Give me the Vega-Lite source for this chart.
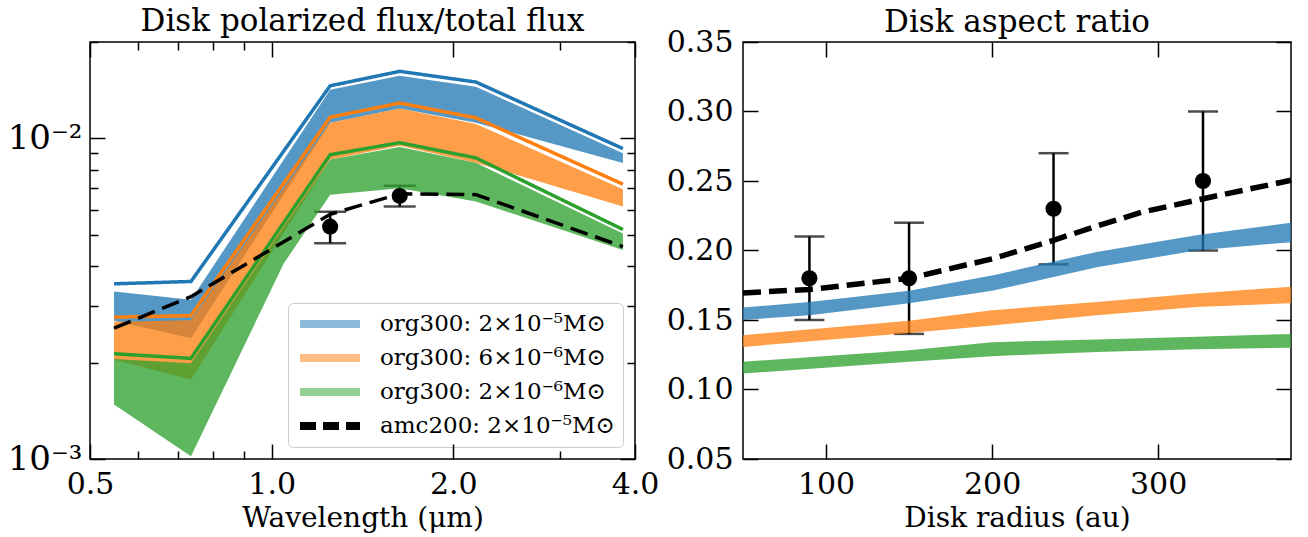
{
  "$schema": "https://vega.github.io/schema/vega-lite/v6.json",
  "padding": {"left": 6, "top": 5, "right": 10, "bottom": 0},
  "bounds": "flush",
  "spacing": 108,
  "datasets": {
    "leftBands": [
      {"model": "org300: 2×10⁻⁵M⊙", "wl": 0.548, "lo": 0.00270, "hi": 0.00333},
      {"model": "org300: 2×10⁻⁵M⊙", "wl": 0.735, "lo": 0.00238, "hi": 0.00314},
      {"model": "org300: 2×10⁻⁵M⊙", "wl": 1.25, "lo": 0.0112, "hi": 0.0142},
      {"model": "org300: 2×10⁻⁵M⊙", "wl": 1.63, "lo": 0.0124, "hi": 0.0157},
      {"model": "org300: 2×10⁻⁵M⊙", "wl": 2.18, "lo": 0.0112, "hi": 0.0145},
      {"model": "org300: 2×10⁻⁵M⊙", "wl": 3.82, "lo": 0.00838, "hi": 0.0090},
      {"model": "org300: 6×10⁻⁶M⊙", "wl": 0.548, "lo": 0.00204, "hi": 0.00268},
      {"model": "org300: 6×10⁻⁶M⊙", "wl": 0.735, "lo": 0.00177, "hi": 0.00271},
      {"model": "org300: 6×10⁻⁶M⊙", "wl": 1.25, "lo": 0.0086, "hi": 0.0112},
      {"model": "org300: 6×10⁻⁶M⊙", "wl": 1.63, "lo": 0.0095, "hi": 0.0124},
      {"model": "org300: 6×10⁻⁶M⊙", "wl": 2.18, "lo": 0.0084, "hi": 0.0111},
      {"model": "org300: 6×10⁻⁶M⊙", "wl": 3.82, "lo": 0.00613, "hi": 0.00695},
      {"model": "org300: 2×10⁻⁶M⊙", "wl": 0.548, "lo": 0.00148, "hi": 0.00205},
      {"model": "org300: 2×10⁻⁶M⊙", "wl": 0.735, "lo": 0.00102, "hi": 0.00199},
      {"model": "org300: 2×10⁻⁶M⊙", "wl": 1.047, "lo": 0.00407, "hi": 0.0053},
      {"model": "org300: 2×10⁻⁶M⊙", "wl": 1.25, "lo": 0.00667, "hi": 0.0086},
      {"model": "org300: 2×10⁻⁶M⊙", "wl": 1.63, "lo": 0.0070, "hi": 0.0094},
      {"model": "org300: 2×10⁻⁶M⊙", "wl": 2.18, "lo": 0.00636, "hi": 0.0084},
      {"model": "org300: 2×10⁻⁶M⊙", "wl": 3.82, "lo": 0.00449, "hi": 0.00505}
    ],
    "leftLines": [
      {"model": "org300: 2×10⁻⁵M⊙", "wl": 0.548, "f": 0.00352},
      {"model": "org300: 2×10⁻⁵M⊙", "wl": 0.735, "f": 0.00358},
      {"model": "org300: 2×10⁻⁵M⊙", "wl": 1.25, "f": 0.0146},
      {"model": "org300: 2×10⁻⁵M⊙", "wl": 1.63, "f": 0.0162},
      {"model": "org300: 2×10⁻⁵M⊙", "wl": 2.18, "f": 0.0150},
      {"model": "org300: 2×10⁻⁵M⊙", "wl": 3.82, "f": 0.0093},
      {"model": "org300: 6×10⁻⁶M⊙", "wl": 0.548, "f": 0.00277},
      {"model": "org300: 6×10⁻⁶M⊙", "wl": 0.735, "f": 0.00280},
      {"model": "org300: 6×10⁻⁶M⊙", "wl": 1.25, "f": 0.01165},
      {"model": "org300: 6×10⁻⁶M⊙", "wl": 1.63, "f": 0.0129},
      {"model": "org300: 6×10⁻⁶M⊙", "wl": 2.18, "f": 0.0116},
      {"model": "org300: 6×10⁻⁶M⊙", "wl": 3.82, "f": 0.0072},
      {"model": "org300: 2×10⁻⁶M⊙", "wl": 0.548, "f": 0.00213},
      {"model": "org300: 2×10⁻⁶M⊙", "wl": 0.735, "f": 0.00206},
      {"model": "org300: 2×10⁻⁶M⊙", "wl": 1.25, "f": 0.0089},
      {"model": "org300: 2×10⁻⁶M⊙", "wl": 1.63, "f": 0.0097},
      {"model": "org300: 2×10⁻⁶M⊙", "wl": 2.18, "f": 0.0087},
      {"model": "org300: 2×10⁻⁶M⊙", "wl": 3.82, "f": 0.0052},
      {"model": "amc200: 2×10⁻⁵M⊙", "wl": 0.548, "f": 0.00256},
      {"model": "amc200: 2×10⁻⁵M⊙", "wl": 0.735, "f": 0.00321},
      {"model": "amc200: 2×10⁻⁵M⊙", "wl": 1.25, "f": 0.0058},
      {"model": "amc200: 2×10⁻⁵M⊙", "wl": 1.63, "f": 0.00672},
      {"model": "amc200: 2×10⁻⁵M⊙", "wl": 2.18, "f": 0.00668},
      {"model": "amc200: 2×10⁻⁵M⊙", "wl": 3.82, "f": 0.0046}
    ],
    "leftObs": [
      {"wl": 1.25, "f": 0.00531, "lo": 0.00471, "hi": 0.00591},
      {"wl": 1.63, "f": 0.00662, "lo": 0.00614, "hi": 0.00712}
    ],
    "rightBands": [
      {"model": "blue", "r": 50, "lo": 0.150, "hi": 0.159},
      {"model": "blue", "r": 90, "lo": 0.1535, "hi": 0.163},
      {"model": "blue", "r": 150, "lo": 0.162, "hi": 0.171},
      {"model": "blue", "r": 200, "lo": 0.171, "hi": 0.182},
      {"model": "blue", "r": 263, "lo": 0.188, "hi": 0.199},
      {"model": "blue", "r": 323, "lo": 0.200, "hi": 0.211},
      {"model": "blue", "r": 380, "lo": 0.206, "hi": 0.220},
      {"model": "orange", "r": 50, "lo": 0.1306, "hi": 0.1391},
      {"model": "orange", "r": 150, "lo": 0.1407, "hi": 0.1494},
      {"model": "orange", "r": 200, "lo": 0.146, "hi": 0.157},
      {"model": "orange", "r": 263, "lo": 0.1535, "hi": 0.163},
      {"model": "orange", "r": 323, "lo": 0.1594, "hi": 0.1691},
      {"model": "orange", "r": 380, "lo": 0.162, "hi": 0.174},
      {"model": "green", "r": 50, "lo": 0.1115, "hi": 0.1199},
      {"model": "green", "r": 150, "lo": 0.1199, "hi": 0.1283},
      {"model": "green", "r": 200, "lo": 0.1240, "hi": 0.1340},
      {"model": "green", "r": 263, "lo": 0.127, "hi": 0.136},
      {"model": "green", "r": 323, "lo": 0.129, "hi": 0.138},
      {"model": "green", "r": 380, "lo": 0.130, "hi": 0.140}
    ],
    "rightLine": [
      {"r": 50, "h": 0.1695},
      {"r": 90, "h": 0.172},
      {"r": 150, "h": 0.180},
      {"r": 200, "h": 0.194},
      {"r": 236, "h": 0.207},
      {"r": 263, "h": 0.2175},
      {"r": 290, "h": 0.2275},
      {"r": 325, "h": 0.2367},
      {"r": 350, "h": 0.243},
      {"r": 380, "h": 0.2505}
    ],
    "rightObs": [
      {"r": 90, "h": 0.18, "lo": 0.15, "hi": 0.21},
      {"r": 150, "h": 0.18, "lo": 0.14, "hi": 0.22},
      {"r": 237, "h": 0.23, "lo": 0.19, "hi": 0.27},
      {"r": 327, "h": 0.25, "lo": 0.20, "hi": 0.30}
    ]
  },
  "hconcat": [
    {
      "width": 545,
      "height": 417,
      "title": {"text": "Disk polarized flux/total flux", "offset": 3},
      "resolve": {"axis": {"x": "independent", "y": "independent"}, "scale": {"color": "independent"}},
      "layer": [
        {
          "data": {"name": "leftObs"},
          "mark": {"type": "rule", "color": "black", "strokeWidth": 2.5},
          "encoding": {
            "x": {"field": "wl", "type": "quantitative", "scale": {"type": "log", "domain": [0.5, 4.0], "nice": false},
                  "axis": {"orient": "bottom", "values": [0.5, 1, 2, 4], "labels": false, "tickSize": -15, "title": null, "zindex": 2}},
            "y": {"field": "lo", "type": "quantitative", "scale": {"type": "log", "domain": [0.001, 0.02], "nice": false},
                  "axis": {"orient": "left", "values": [0.001, 0.01], "labels": false, "tickSize": -15, "title": null, "zindex": 2}},
            "y2": {"field": "hi"}
          }
        },
        {
          "data": {"name": "leftObs"},
          "transform": [{"fold": ["lo", "hi"], "as": ["k", "v"]}],
          "mark": {"type": "tick", "color": "black", "orient": "horizontal", "size": 32, "thickness": 2.5},
          "encoding": {
            "x": {"field": "wl", "type": "quantitative", "scale": {"type": "log", "domain": [0.5, 4.0], "nice": false},
                  "axis": {"orient": "bottom", "values": [0.6, 0.7, 0.8, 0.9, 3], "labels": false, "tickSize": -8, "title": null, "zindex": 2}},
            "y": {"field": "v", "type": "quantitative", "scale": {"type": "log", "domain": [0.001, 0.02], "nice": false},
                  "axis": {"orient": "left", "values": [0.002, 0.003, 0.004, 0.005, 0.006, 0.007, 0.008, 0.009, 0.02], "labels": false, "tickSize": -8, "title": null, "zindex": 2}}
          }
        },
        {
          "data": {"name": "leftObs"},
          "mark": {"type": "point", "filled": true, "color": "black", "opacity": 1, "size": 260},
          "encoding": {
            "x": {"field": "wl", "type": "quantitative", "scale": {"type": "log", "domain": [0.5, 4.0], "nice": false},
                  "axis": {"orient": "top", "values": [0.6, 0.7, 0.8, 0.9, 3], "labels": false, "tickSize": -8, "title": null, "zindex": 2}},
            "y": {"field": "f", "type": "quantitative", "scale": {"type": "log", "domain": [0.001, 0.02], "nice": false},
                  "axis": {"orient": "right", "values": [0.002, 0.003, 0.004, 0.005, 0.006, 0.007, 0.008, 0.009, 0.02], "labels": false, "tickSize": -8, "title": null, "zindex": 2}}
          }
        },
        {
          "data": {"name": "leftBands"},
          "mark": {"type": "area", "opacity": 0.76},
          "encoding": {
            "x": {"field": "wl", "type": "quantitative", "scale": {"type": "log", "domain": [0.5, 4.0], "nice": false},
                  "axis": {"orient": "bottom", "values": [0.5, 1, 2, 4], "format": ".1f", "ticks": false, "labelPadding": 10, "title": "Wavelength (μm)", "titlePadding": 5}},
            "y": {"field": "lo", "type": "quantitative", "scale": {"type": "log", "domain": [0.001, 0.02], "nice": false},
                  "axis": {"orient": "left", "values": [0.001, 0.01], "ticks": false, "labelPadding": 8, "labelFontSize": 34, "labelExpr": "datum.value < 0.005 ? '10⁻³' : '10⁻²'", "title": null}},
            "y2": {"field": "hi"},
            "color": {"field": "model", "type": "nominal",
                      "scale": {"domain": ["org300: 2×10⁻⁵M⊙", "org300: 6×10⁻⁶M⊙", "org300: 2×10⁻⁶M⊙"], "range": ["#1f77b4", "#ff7f0e", "#2ca02c"]},
                      "legend": null}
          }
        },
        {
          "data": {"name": "leftLines"},
          "mark": {"type": "line", "strokeWidth": 3.5},
          "encoding": {
            "x": {"field": "wl", "type": "quantitative", "scale": {"type": "log", "domain": [0.5, 4.0], "nice": false},
                  "axis": {"orient": "top", "values": [0.5, 1, 2, 4], "labels": false, "tickSize": -15, "title": null, "zindex": 2}},
            "y": {"field": "f", "type": "quantitative", "scale": {"type": "log", "domain": [0.001, 0.02], "nice": false},
                  "axis": {"orient": "right", "values": [0.001, 0.01], "labels": false, "tickSize": -15, "title": null, "zindex": 2}},
            "color": {"field": "model", "type": "nominal",
                      "scale": {"domain": ["org300: 2×10⁻⁵M⊙", "org300: 6×10⁻⁶M⊙", "org300: 2×10⁻⁶M⊙", "amc200: 2×10⁻⁵M⊙"], "range": ["#1f77b4", "#ff7f0e", "#2ca02c", "#000000"]},
                      "legend": {
                        "title": null, "orient": "bottom-right", "offset": 12,
                        "fillColor": "white", "strokeColor": "#cccccc", "cornerRadius": 5, "padding": 8,
                        "symbolType": "stroke", "symbolSize": 3600, "symbolStrokeWidth": 8,
                        "labelFont": "DejaVu Serif", "labelFontSize": 23, "labelColor": "black", "labelOffset": 16, "labelLimit": 400,
                        "clipHeight": 26, "rowPadding": 8,
                        "encode": {"symbols": {"update": {
                          "strokeDash": {"signal": "datum.value === 'amc200: 2×10⁻⁵M⊙' ? [16, 7] : [1, 0]"},
                          "opacity": {"signal": "datum.value === 'amc200: 2×10⁻⁵M⊙' ? 1 : 0.5"}
                        }}}
                      }},
            "strokeWidth": {"field": "model", "type": "nominal",
                            "scale": {"domain": ["org300: 2×10⁻⁵M⊙", "org300: 6×10⁻⁶M⊙", "org300: 2×10⁻⁶M⊙", "amc200: 2×10⁻⁵M⊙"], "range": [3.5, 3, 3, 5.5]},
                            "legend": null},
            "strokeDash": {"field": "model", "type": "nominal",
                           "scale": {"domain": ["org300: 2×10⁻⁵M⊙", "org300: 6×10⁻⁶M⊙", "org300: 2×10⁻⁶M⊙", "amc200: 2×10⁻⁵M⊙"], "range": [[1, 0], [1, 0], [1, 0], [18, 8]]},
                           "legend": null}
          }
        }
      ]
    },
    {
      "width": 548,
      "height": 417,
      "title": {"text": "Disk aspect ratio", "offset": -12},
      "resolve": {"axis": {"x": "independent", "y": "independent"}},
      "layer": [
        {
          "data": {"name": "rightObs"},
          "mark": {"type": "rule", "color": "black", "strokeWidth": 2.5},
          "encoding": {
            "x": {"field": "r", "type": "quantitative", "scale": {"domain": [50, 380], "nice": false, "zero": false},
                  "axis": {"orient": "bottom", "values": [100, 200, 300], "labels": false, "tickSize": -15, "title": null, "zindex": 2}},
            "y": {"field": "lo", "type": "quantitative", "scale": {"domain": [0.05, 0.35], "nice": false, "zero": false},
                  "axis": {"orient": "left", "values": [0.05, 0.1, 0.15, 0.2, 0.25, 0.3, 0.35], "labels": false, "tickSize": -15, "title": null, "zindex": 2}},
            "y2": {"field": "hi"}
          }
        },
        {
          "data": {"name": "rightObs"},
          "transform": [{"fold": ["lo", "hi"], "as": ["k", "v"]}],
          "mark": {"type": "tick", "color": "black", "orient": "horizontal", "size": 30, "thickness": 2.5},
          "encoding": {
            "x": {"field": "r", "type": "quantitative", "scale": {"domain": [50, 380], "nice": false, "zero": false}, "axis": null},
            "y": {"field": "v", "type": "quantitative", "scale": {"domain": [0.05, 0.35], "nice": false, "zero": false}, "axis": null}
          }
        },
        {
          "data": {"name": "rightObs"},
          "mark": {"type": "point", "filled": true, "color": "black", "opacity": 1, "size": 260},
          "encoding": {
            "x": {"field": "r", "type": "quantitative", "scale": {"domain": [50, 380], "nice": false, "zero": false}, "axis": null},
            "y": {"field": "h", "type": "quantitative", "scale": {"domain": [0.05, 0.35], "nice": false, "zero": false}, "axis": null}
          }
        },
        {
          "data": {"name": "rightBands"},
          "mark": {"type": "area", "opacity": 0.76},
          "encoding": {
            "x": {"field": "r", "type": "quantitative", "scale": {"domain": [50, 380], "nice": false, "zero": false},
                  "axis": {"orient": "bottom", "values": [100, 200, 300], "format": "d", "ticks": false, "labelPadding": 10, "title": "Disk radius (au)", "titlePadding": 5}},
            "y": {"field": "lo", "type": "quantitative", "scale": {"domain": [0.05, 0.35], "nice": false, "zero": false},
                  "axis": {"orient": "left", "values": [0.05, 0.1, 0.15, 0.2, 0.25, 0.3, 0.35], "format": ".2f", "ticks": false, "labelPadding": 10, "title": null}},
            "y2": {"field": "hi"},
            "color": {"field": "model", "type": "nominal",
                      "scale": {"domain": ["blue", "orange", "green"], "range": ["#1f77b4", "#ff7f0e", "#2ca02c"]},
                      "legend": null}
          }
        },
        {
          "data": {"name": "rightLine"},
          "mark": {"type": "line", "color": "black", "strokeWidth": 5.5, "strokeDash": [18, 8]},
          "encoding": {
            "x": {"field": "r", "type": "quantitative", "scale": {"domain": [50, 380], "nice": false, "zero": false},
                  "axis": {"orient": "top", "values": [100, 200, 300], "labels": false, "tickSize": -15, "title": null, "zindex": 2}},
            "y": {"field": "h", "type": "quantitative", "scale": {"domain": [0.05, 0.35], "nice": false, "zero": false},
                  "axis": {"orient": "right", "values": [0.05, 0.1, 0.15, 0.2, 0.25, 0.3, 0.35], "labels": false, "tickSize": -15, "title": null, "zindex": 2}}
          }
        }
      ]
    }
  ],
  "config": {
    "font": "DejaVu Serif",
    "view": {"stroke": "#000000", "strokeWidth": 1.5},
    "axis": {"grid": false, "domain": false, "labelFont": "DejaVu Serif", "labelFontSize": 30, "labelColor": "#000000",
             "tickColor": "#000000", "tickWidth": 1.5, "titleFont": "DejaVu Serif", "titleFontSize": 28,
             "titleFontWeight": "normal", "titleColor": "#000000", "labelFlush": false},
    "title": {"font": "DejaVu Serif", "fontSize": 31, "fontWeight": "normal", "color": "#000000"}
  }
}
